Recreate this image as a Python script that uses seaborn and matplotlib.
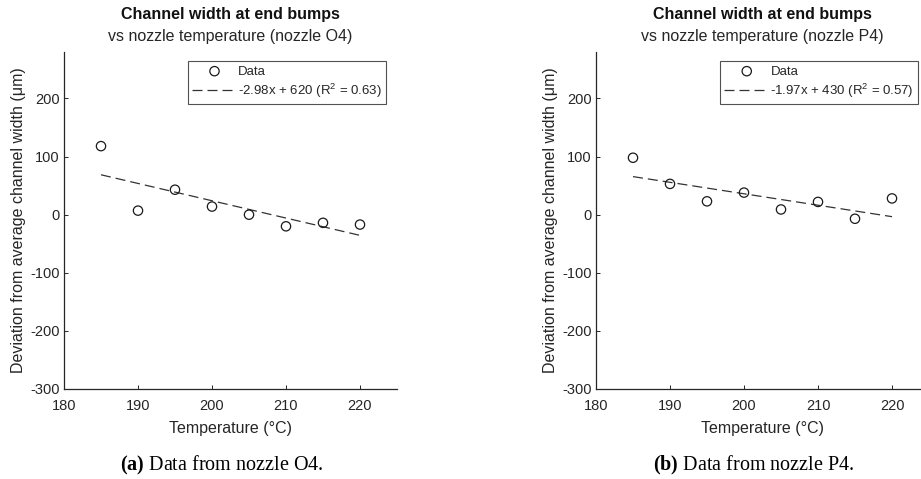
import numpy as np
import pandas as pd
import matplotlib
matplotlib.use("Agg")
import matplotlib.pyplot as plt
import seaborn as sns

# ---- data ----
temperature = [185, 190, 195, 200, 205, 210, 215, 220]
dev_O4 = [118, 7, 43, 14, 0, -20, -14, -17]
dev_P4 = [98, 53, 23, 38, 9, 22, -7, 28]
fit_slope = [-2.98, -1.97]
fit_intercept = [620, 430]
fit_r2 = [0.63, 0.57]
nozzles = ["O4", "P4"]
captions_letter = ["(a)", "(b)"]
x_ticks = [180, 190, 200, 210, 220]
y_ticks = [-300, -200, -100, 0, 100, 200]

sns.set_theme(style="white")
plt.rcParams["font.family"] = ["Liberation Sans", "DejaVu Sans"]
plt.rcParams["axes.unicode_minus"] = False
plt.rcParams["mathtext.fontset"] = "custom"
plt.rcParams["mathtext.rm"] = "Liberation Sans"
plt.rcParams["mathtext.bf"] = "Liberation Serif:bold"

W, H = 921, 479
fig = plt.figure(figsize=(W / 100, H / 100), dpi=100)
txt = "#262626"

ax_left_px = [64, 596]
ax_w_px = 333
ax_top_px, ax_bot_px = 52, 389

for i, (dev, noz) in enumerate(zip([dev_O4, dev_P4], nozzles)):
    l = ax_left_px[i] / W
    b = 1 - ax_bot_px / H
    w = ax_w_px / W
    h = (ax_bot_px - ax_top_px) / H
    ax = fig.add_axes([l, b, w, h])
    df = pd.DataFrame({"T": temperature, "d": dev})
    sns.scatterplot(data=df, x="T", y="d", ax=ax, marker="o", s=45,
                    facecolor="none", edgecolor="#1a1a1a", linewidth=0.9,
                    label="Data", zorder=3)
    xs = np.array([temperature[0], temperature[-1]])
    fit_df = pd.DataFrame({"T": xs, "d": fit_slope[i] * xs + fit_intercept[i]})
    lab = f"{fit_slope[i]:.2f}x + {fit_intercept[i]} (R$^2$ = {fit_r2[i]:.2f})"
    sns.lineplot(data=fit_df, x="T", y="d", ax=ax, color="#333333",
                 linewidth=0.9, dashes=False, label=lab)
    ax.lines[-1].set_dashes([8, 4])
    ax.set_xlim(180, 225)
    ax.set_ylim(-300, 280)
    ax.set_xticks(x_ticks)
    ax.set_yticks(y_ticks)
    ax.tick_params(direction="in", length=3, width=0.7, colors=txt,
                   labelsize=10.5, left=True, bottom=True)
    ax.tick_params(axis="x", pad=7)
    ax.tick_params(axis="y", pad=3)
    for s in ["top", "right"]:
        ax.spines[s].set_visible(False)
    for s in ["left", "bottom"]:
        ax.spines[s].set_color(txt)
        ax.spines[s].set_linewidth(0.9)
    ax.set_xlabel("Temperature (°C)", fontsize=11.5, color=txt, labelpad=6)
    ax.set_ylabel("Deviation from average channel width (μm)", fontsize=11.5,
                  color=txt, labelpad=3)
    leg = ax.legend(loc="upper right", bbox_to_anchor=(0.967, 0.972),
                    fontsize=9.5, frameon=True, fancybox=False,
                    edgecolor="#262626", handlelength=3.4, handletextpad=0.1,
                    borderpad=0.3, labelspacing=0.3, borderaxespad=0)
    leg.get_frame().set_linewidth(0.8)
    for t in leg.get_texts():
        t.set_color(txt)
    cx = (ax_left_px[i] + ax_w_px / 2) / W
    fig.text(cx, 1 - 15 / H, "Channel width at end bumps", ha="center",
             va="center", fontsize=11.5, fontweight="bold", color="#111111")
    fig.text(cx, 1 - 37 / H, f"vs nozzle temperature (nozzle {noz})",
             ha="center", va="center", fontsize=11.5, color=txt)

cap_x = [222 / W, 754 / W]
for i in range(2):
    fig.text(cap_x[i], 1 - 465 / H,
             r"$\mathbf{" + captions_letter[i] + "}$" + f" Data from nozzle {nozzles[i]}.",
             ha="center", va="center", fontsize=14.5, color="black",
             family="Liberation Serif")

fig.savefig("out.png", dpi=100)
